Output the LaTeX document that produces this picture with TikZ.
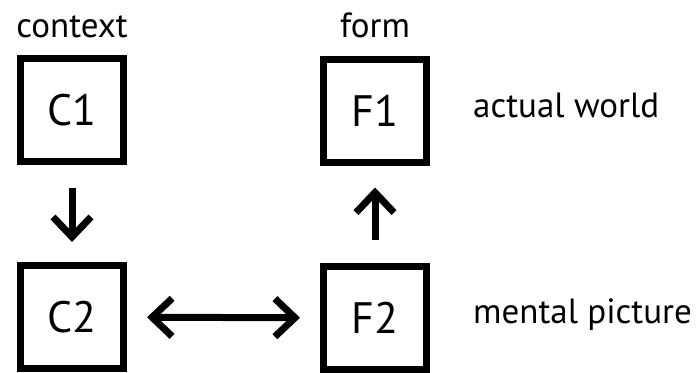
\documentclass[tikz,border=0pt]{standalone}
\usepackage{fontspec}
\setmainfont{PT Sans}
\usetikzlibrary{arrows.meta}

\begin{document}
\begin{tikzpicture}[x=1pt,y=-1pt]
	\tikzset{frame/.style = {draw, line width=7pt, minimum size=103pt, inner sep=0pt, font=\fontsize{44}{48}\selectfont}}
	\tikzset{caption/.style = {anchor=base, inner sep=0pt, font=\fontsize{35}{38}\selectfont}}
	\tikzset{barb/.tip = {Straight Barb[length=20pt,width=38pt]}}
	\tikzset{link/.style = {line width=7pt, -barb}}

	\useasboundingbox (0,0) rectangle (700,372);

	\node[frame] (c1) at (72,110) {C1};
	\node[frame] (f1) at (375,110.5) {F1};
	\node[frame] (c2) at (72,317) {C2};
	\node[frame] (f2) at (375,318) {F2};

	\node[caption] (context) at (72,37) {context};
	\node[caption] (form) at (375,37) {form};
	\node[caption, anchor=base west] (actual) at (473,117) {actual world};
	\node[caption, anchor=base west] (mental) at (473,323) {mental picture};

	\draw[link, shorten <=23pt, shorten >=20pt] (c1) -- (c2);
	\draw[link, shorten <=23pt, shorten >=22pt] (f2) -- (f1);
	\draw[link, barb-barb, shorten <=20pt, shorten >=20pt] (c2) -- (f2);

\end{tikzpicture}
\end{document}
